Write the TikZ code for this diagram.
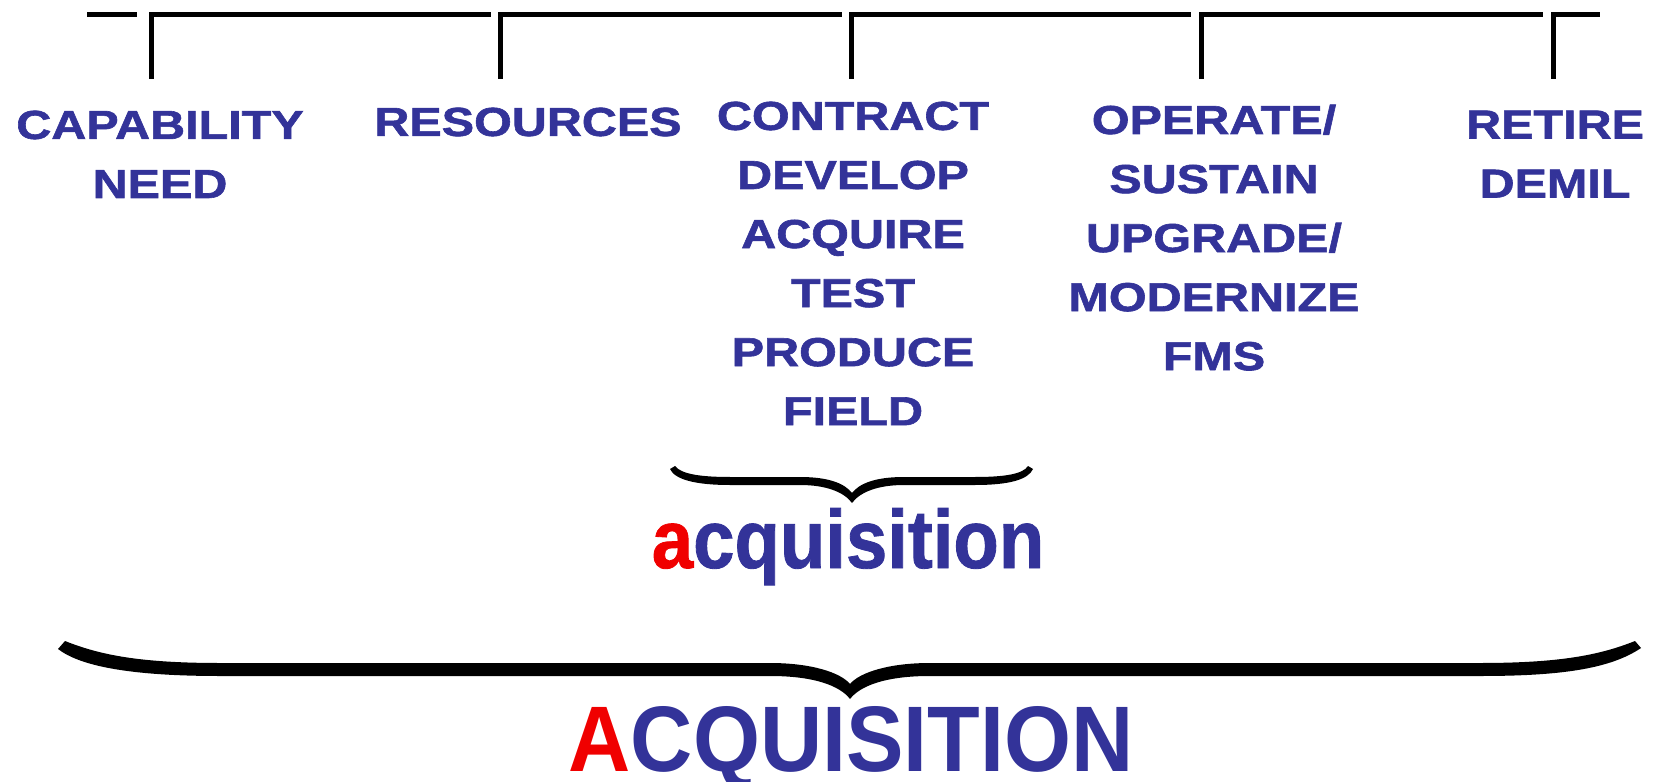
\documentclass[tikz,border=0pt]{standalone}
\usepackage{fontspec}
\newfontfamily\stagefont{Liberation Sans Bold}[FakeStretch=1.2,FakeBold=1.5]
\newfontfamily\acqfont{Liberation Sans Bold}[FakeStretch=0.9,FakeBold=1]
\newfontfamily\bigacqfont{Liberation Sans Bold}[FakeStretch=0.925]
\definecolor{stageblue}{RGB}{51,51,153}
\definecolor{acqred}{RGB}{240,0,0}
\tikzset{
  stage/.style={text=stageblue,font=\stagefont\fontsize{11.5}{16.8}\selectfont,
    align=center,inner sep=0pt,anchor=north},
  bar/.style={line width=0.5mm},
  curly/.style={fill=black,draw=none}
}
\begin{document}
\begin{tikzpicture}[x=0.1mm,y=-0.1mm]
            \useasboundingbox (0,0) rectangle (1656,782);
            %Nodes
            \node[stage] at (160,110)  (need)   {CAPABILITY\\NEED};
            \node[stage] at (528,107)  (res)    {RESOURCES};
            \node[stage] at (853,101)  (dev)    {CONTRACT\\DEVELOP\\ACQUIRE\\TEST\\PRODUCE\\FIELD};
            \node[stage] at (1214,104) (ops)    {OPERATE/\\SUSTAIN\\UPGRADE/\\MODERNIZE\\FMS};
            \node[stage] at (1555,110) (ret)    {RETIRE\\DEMIL};
            \node[text=stageblue,font=\acqfont\fontsize{23.5}{23.5}\selectfont,
                  inner sep=0pt,anchor=base] at (848,568) (acq)
                  {\textcolor{acqred}{a}cquisition};
            \node[text=stageblue,font=\bigacqfont\fontsize{26.5}{26.5}\selectfont,
                  inner sep=0pt,anchor=base] at (851,771) (bigacq)
                  {\textcolor{acqred}{A}CQUISITION};

            %Ticks
            \coordinate (l0)  at (87,15);
            \coordinate (l1)  at (137,15);
            \coordinate (tk1) at (151,79);
            \coordinate (e1)  at (491,15);
            \coordinate (tk2) at (500,79);
            \coordinate (e2)  at (842,15);
            \coordinate (tk3) at (851,79);
            \coordinate (e3)  at (1191,15);
            \coordinate (tk4) at (1201,79);
            \coordinate (e4)  at (1543,15);
            \coordinate (tk5) at (1553,79);
            \coordinate (e5)  at (1600,15);

            %Lines
            \draw[bar] (l0) -- (l1);
            \draw[bar] (tk1) |- (e1);
            \draw[bar] (tk2) |- (e2);
            \draw[bar] (tk3) |- (e3);
            \draw[bar] (tk4) |- (e4);
            \draw[bar] (tk5) |- (e5);

            %Braces
            \fill[curly] (675,466) .. controls (681,474) and (700,477) .. (730,477)
              -- (800,477) .. controls (830,477) and (845,484) .. (852,493)
              .. controls (859,484) and (874,477) .. (904,477) -- (975,477)
              .. controls (1005,477) and (1023,474) .. (1028,466)
              -- (1033,469) .. controls (1028,480) and (1008,485) .. (975,485)
              -- (904,485) .. controls (878,485) and (860,492) .. (852,503)
              .. controls (844,492) and (826,485) .. (800,485) -- (730,485)
              .. controls (697,485) and (675,480) .. (670,469) -- cycle;
            \fill[curly] (65,641) .. controls (100,655) and (140,663) .. (220,663)
              -- (770,663) .. controls (810,663) and (840,672) .. (850,684)
              .. controls (860,672) and (890,663) .. (930,663) -- (1480,663)
              .. controls (1560,663) and (1600,655) .. (1635,641)
              -- (1641,648) .. controls (1610,669) and (1560,676) .. (1480,676)
              -- (930,676) .. controls (885,676) and (860,686) .. (850,699)
              .. controls (840,686) and (815,676) .. (770,676) -- (220,676)
              .. controls (130,676) and (80,666) .. (58,649) -- cycle;
        \end{tikzpicture}
\end{document}
